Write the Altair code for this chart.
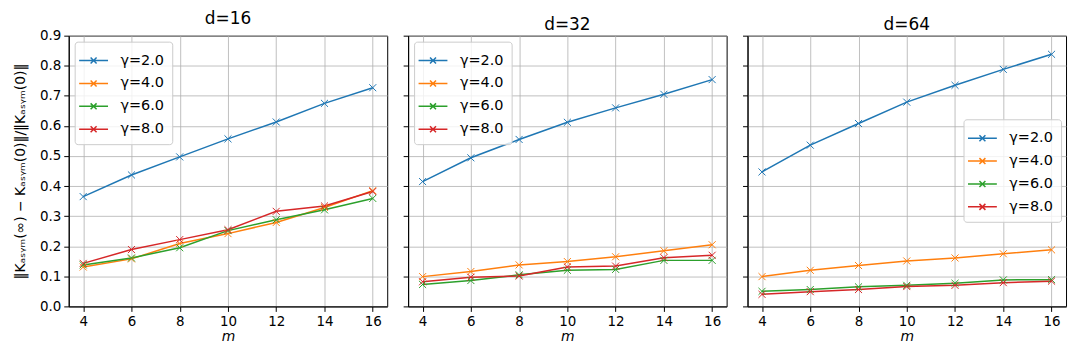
import altair as alt
import pandas as pd

m_vals = [4, 6, 8, 10, 12, 14, 16]
gamma_labels = ["γ=2.0", "γ=4.0", "γ=6.0", "γ=8.0"]
panel_titles = ["d=16", "d=32", "d=64"]

# d=16
d16_g2 = [0.365, 0.437, 0.497, 0.557, 0.613, 0.675, 0.727]
d16_g4 = [0.131, 0.158, 0.209, 0.242, 0.279, 0.329, 0.385]
d16_g6 = [0.138, 0.161, 0.195, 0.252, 0.288, 0.321, 0.359]
d16_g8 = [0.143, 0.189, 0.222, 0.255, 0.316, 0.334, 0.382]
# d=32
d32_g2 = [0.415, 0.494, 0.555, 0.612, 0.660, 0.705, 0.754]
d32_g4 = [0.099, 0.116, 0.138, 0.149, 0.165, 0.185, 0.205]
d32_g6 = [0.073, 0.086, 0.105, 0.120, 0.123, 0.153, 0.153]
d32_g8 = [0.082, 0.097, 0.101, 0.131, 0.134, 0.162, 0.170]
# d=64
d64_g2 = [0.447, 0.536, 0.608, 0.679, 0.735, 0.788, 0.838]
d64_g4 = [0.099, 0.120, 0.136, 0.151, 0.161, 0.175, 0.188]
d64_g6 = [0.050, 0.056, 0.065, 0.070, 0.077, 0.088, 0.089]
d64_g8 = [0.040, 0.049, 0.056, 0.066, 0.070, 0.079, 0.084]

panels = [
    [d16_g2, d16_g4, d16_g6, d16_g8],
    [d32_g2, d32_g4, d32_g6, d32_g8],
    [d64_g2, d64_g4, d64_g6, d64_g8],
]

colors = ["#1f77b4", "#ff7f0e", "#2ca02c", "#d62728"]
x_marker = "M-1,-1L1,1M-1,1L1,-1"
legend_symbol = "M-1.45,0L1.45,0M-0.3,-0.3L0.3,0.3M-0.3,0.3L0.3,-0.3"

def make_legend(idx):
    common = dict(title=None, symbolType=legend_symbol, symbolSize=400,
                  symbolStrokeWidth=1.5, symbolFillColor="transparent",
                  labelFontSize=14.5, labelFont="DejaVu Sans", labelColor="black",
                  rowPadding=5, padding=8, labelOffset=16,
                  strokeColor="#cccccc", fillColor="rgba(255,255,255,0.8)",
                  cornerRadius=3)
    if idx < 2:
        return alt.Legend(orient="top-left", offset=6, **common)
    return alt.Legend(orient="none", legendX=217, legendY=84, **common)

def make_panel(idx):
    rows = []
    for g, series in zip(gamma_labels, panels[idx]):
        for mv, v in zip(m_vals, series):
            rows.append({"m": mv, "val": v, "gamma": g})
    df = pd.DataFrame(rows)
    leg = make_legend(idx)
    color = alt.Color("gamma:N", scale=alt.Scale(domain=gamma_labels, range=colors), legend=leg)
    x = alt.X("m:Q", scale=alt.Scale(domain=[3.4, 16.6], nice=False, zero=False),
              axis=alt.Axis(values=m_vals, title="m", titleFontStyle="italic",
                            titlePadding=2))
    if idx == 0:
        yaxis = alt.Axis(values=[i / 10 for i in range(10)], format=".1f",
                         title="‖Kₐₛᵧₘ(∞) − Kₐₛᵧₘ(0)‖/‖Kₐₛᵧₘ(0)‖", titlePadding=12)
    else:
        yaxis = alt.Axis(values=[i / 10 for i in range(10)], labels=False, title=None)
    y = alt.Y("val:Q", scale=alt.Scale(domain=[0, 0.9], nice=False), axis=yaxis)
    base = alt.Chart(df)
    lines = base.mark_line(strokeWidth=1.5).encode(x=x, y=y, color=color)
    pts = base.mark_point(shape=x_marker, filled=False, strokeWidth=1, size=50, opacity=1).encode(
        x=x, y=y, color=color)
    return alt.layer(lines, pts).properties(width=320, height=272, title=panel_titles[idx])

chart = alt.hconcat(make_panel(0), make_panel(1), make_panel(2), spacing=14).resolve_scale(
    color="independent").resolve_legend(color="independent").properties(
    padding={"left": 5, "top": 0, "right": 5, "bottom": 5}).configure_view(
    stroke="black", strokeWidth=1).configure_axis(
    grid=True, gridColor="#b0b0b0", gridWidth=0.8, domainColor="black", tickColor="black",
    labelColor="black", labelFont="DejaVu Sans", labelFontSize=13.5, tickSize=5,
    titleFont="DejaVu Sans", titleFontSize=14, titleFontWeight="normal", titleColor="black",
    labelPadding=3).configure_title(
    font="DejaVu Sans", fontSize=17, fontWeight="normal", anchor="middle", offset=1, color="black")

chart.save("out.html", embed_options={"renderer": "svg", "actions": False})
